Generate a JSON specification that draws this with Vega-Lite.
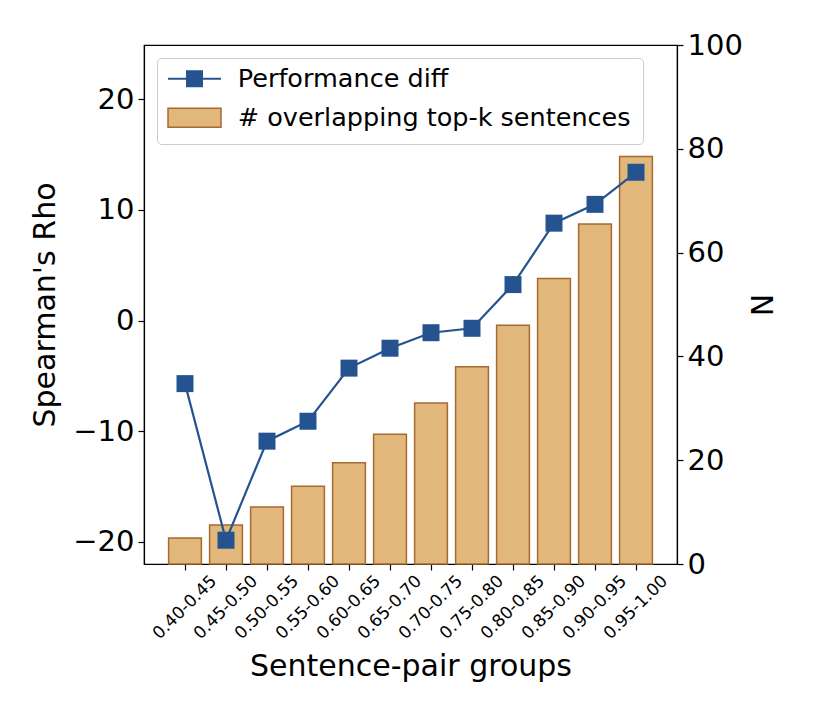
{
  "$schema": "https://vega.github.io/schema/vega-lite/v6.json",
  "autosize": {"type": "none"},
  "width": 533,
  "height": 519,
  "padding": {"left": 144, "top": 45, "right": 137, "bottom": 148},
  "config": {
    "font": "DejaVu Sans",
    "view": {"stroke": "black", "strokeWidth": 1.2},
    "axis": {
      "domainColor": "black",
      "tickColor": "black",
      "labelColor": "black",
      "titleColor": "black",
      "grid": false,
      "titleFontWeight": "normal",
      "labelFont": "DejaVu Sans",
      "titleFont": "DejaVu Sans",
      "tickSize": 6,
      "tickWidth": 1.2,
      "domainWidth": 1.2
    },
    "legend": {
      "orient": "none",
      "padding": 12,
      "labelFontSize": 25.5,
      "labelFont": "DejaVu Sans",
      "labelColor": "black",
      "labelLimit": 1000,
      "symbolSize": 400,
      "symbolOffset": 12.75,
      "labelOffset": 30.5,
      "titleFont": "DejaVu Sans",
      "titleFontWeight": "normal"
    }
  },
  "data": {
    "values": [
      {"group": "0.40-0.45", "rho": -5.7, "n": 5},
      {"group": "0.45-0.50", "rho": -19.85, "n": 7.5},
      {"group": "0.50-0.55", "rho": -10.9, "n": 11},
      {"group": "0.55-0.60", "rho": -9.1, "n": 15},
      {"group": "0.60-0.65", "rho": -4.3, "n": 19.5},
      {"group": "0.65-0.70", "rho": -2.5, "n": 25},
      {"group": "0.70-0.75", "rho": -1.1, "n": 31},
      {"group": "0.75-0.80", "rho": -0.7, "n": 38},
      {"group": "0.80-0.85", "rho": 3.25, "n": 46},
      {"group": "0.85-0.90", "rho": 8.8, "n": 55},
      {"group": "0.90-0.95", "rho": 10.5, "n": 65.5},
      {"group": "0.95-1.00", "rho": 13.4, "n": 78.5}
    ]
  },
  "encoding": {
    "x": {
      "field": "group",
      "type": "ordinal",
      "sort": null,
      "scale": {"paddingInner": 0.2, "paddingOuter": 0.6},
      "axis": {
        "title": "Sentence-pair groups",
        "titleFontSize": 30,
        "titlePadding": 10,
        "labelAngle": -45,
        "labelAlign": "center",
        "labelBaseline": "middle",
        "labelFontSize": 17,
        "labelPadding": 37,
        "labelOverlap": false,
        "labelBound": false
      }
    }
  },
  "layer": [
    {
      "mark": {"type": "bar", "stroke": "#a66a2e", "strokeWidth": 1.5},
      "encoding": {
        "y": {
          "field": "n",
          "type": "quantitative",
          "scale": {"domain": [0, 100], "nice": false},
          "axis": {
            "orient": "right",
            "title": "N",
            "titleAngle": 270,
            "titleBaseline": "top",
            "titleFontSize": 30,
            "titlePadding": 6,
            "values": [0, 20, 40, 60, 80, 100],
            "labelFontSize": 29,
            "labelPadding": 4
          }
        },
        "fill": {
          "datum": "# overlapping top-k sentences",
          "type": "nominal",
          "scale": {"domain": ["# overlapping top-k sentences"], "range": ["#e2b77c"]},
          "legend": {
            "legendX": 13,
            "legendY": 13,
            "title": " ",
            "titleOrient": "top",
            "titleFontSize": 25,
            "titlePadding": 10,
            "strokeColor": "#cccccc",
            "cornerRadius": 4,
            "symbolType": "M-2.65,-0.95H2.65V0.95H-2.65Z",
            "symbolStrokeColor": "#a66a2e",
            "symbolStrokeWidth": 1.5
          }
        }
      }
    },
    {
      "encoding": {
        "y": {
          "field": "rho",
          "type": "quantitative",
          "scale": {"domain": [-22, 24.9], "nice": false},
          "axis": {
            "orient": "left",
            "title": "Spearman's Rho",
            "titleFontSize": 30,
            "titlePadding": 12,
            "values": [-20, -10, 0, 10, 20],
            "labelFontSize": 29,
            "labelPadding": 4
          }
        }
      },
      "layer": [
        {
          "mark": {"type": "line", "strokeWidth": 2.2},
          "encoding": {
            "stroke": {
              "datum": "Performance diff",
              "type": "nominal",
              "scale": {"domain": ["Performance diff"], "range": ["#25538f"]},
              "legend": {
                "legendX": 13,
                "legendY": 9,
                "title": null,
                "symbolType": "M-2.65,0H2.65M-0.75,-0.75H0.75V0.75H-0.75ZM-0.55,-0.55H0.55V0.55H-0.55ZM-0.35,-0.35H0.35V0.35H-0.35ZM-0.15,-0.15H0.15V0.15H-0.15ZM-0.05,-0.05H0.05V0.05H-0.05Z",
                "symbolFillColor": "#25538f",
                "symbolStrokeWidth": 2
              }
            }
          }
        },
        {
          "mark": {"type": "square", "size": 289, "filled": true, "color": "#25538f", "opacity": 1}
        }
      ]
    }
  ],
  "resolve": {"scale": {"y": "independent"}}
}
